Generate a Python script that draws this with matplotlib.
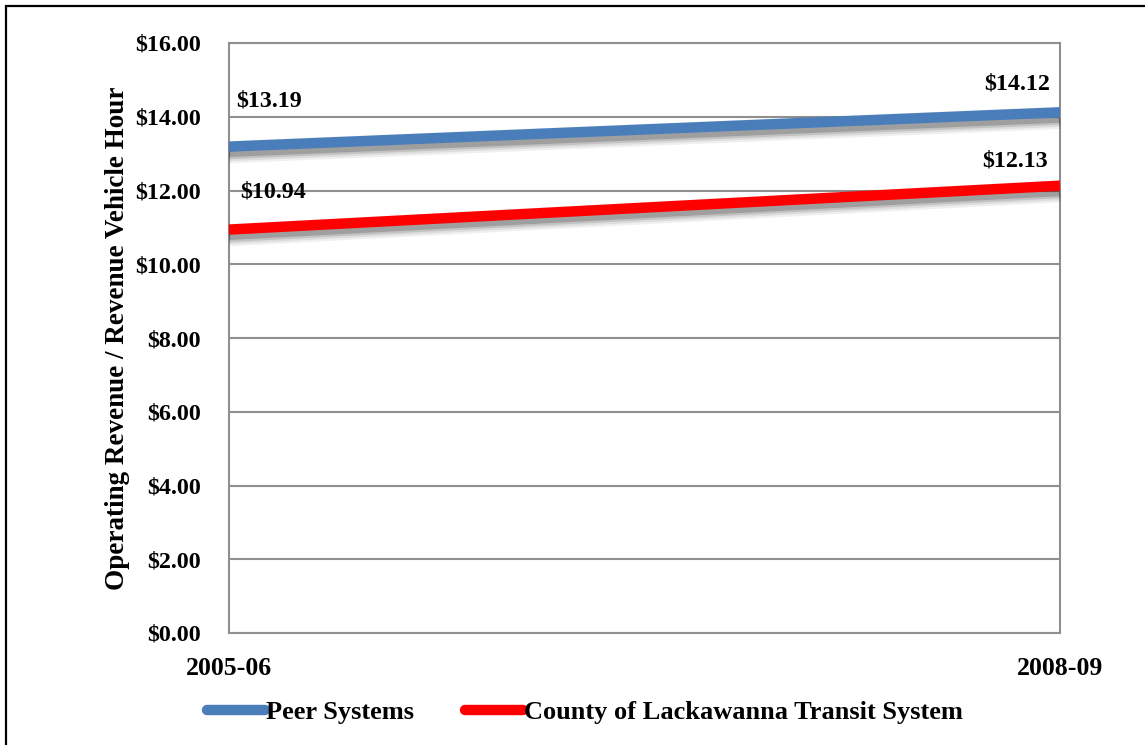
import matplotlib
matplotlib.use("Agg")
import matplotlib.pyplot as plt
import matplotlib.patheffects as pe
from matplotlib.patches import Rectangle

# Data
periods = ["2005-06", "2008-09"]
peer_systems = [13.19, 14.12]
colts = [10.94, 12.13]
series_names = ["Peer Systems", "County of Lackawanna Transit System"]
y_ticks = [0, 2, 4, 6, 8, 10, 12, 14, 16]

plt.rcParams["font.family"] = ["Liberation Serif", "DejaVu Serif"]
plt.rcParams["font.weight"] = "bold"

fig = plt.figure(figsize=(11.45, 7.45), dpi=100)
ax = fig.add_axes([229 / 1145, 1 - 633 / 745, (1060 - 229) / 1145, (633 - 43) / 745])

grid_color = "#8f8f8f"
x = list(range(len(periods)))

# soft blurred drop shadow beneath each line
shadow = [
    pe.SimpleLineShadow(offset=(0, -4), shadow_color="#000000", alpha=0.06, linewidth=16),
    pe.SimpleLineShadow(offset=(0, -4), shadow_color="#000000", alpha=0.08, linewidth=13),
    pe.SimpleLineShadow(offset=(0, -4), shadow_color="#000000", alpha=0.12, linewidth=10),
    pe.SimpleLineShadow(offset=(0, -4), shadow_color="#000000", alpha=0.18, linewidth=7),
    pe.Normal(),
]

ax.plot(x, peer_systems, color="#4a7ebb", lw=7.5, solid_capstyle="butt",
        label=series_names[0], path_effects=shadow, zorder=4, clip_on=False)
ax.plot(x, colts, color="#ff0000", lw=7.5, solid_capstyle="butt",
        label=series_names[1], path_effects=shadow, zorder=4, clip_on=False)

# value labels
fs = 17.3
lbl_kw = dict(fontsize=fs, fontweight="bold", color="black", zorder=6)
ax.annotate(f"${peer_systems[0]:.2f}", (x[0], peer_systems[0]), xytext=(7, 46),
            textcoords="offset pixels", ha="left", va="center", **lbl_kw)
ax.annotate(f"${peer_systems[1]:.2f}", (x[1], peer_systems[1]), xytext=(-10, 28),
            textcoords="offset pixels", ha="right", va="center", **lbl_kw)
ax.annotate(f"${colts[0]:.2f}", (x[0], colts[0]), xytext=(11, 38),
            textcoords="offset pixels", ha="left", va="center", **lbl_kw)
ax.annotate(f"${colts[1]:.2f}", (x[1], colts[1]), xytext=(-12, 25),
            textcoords="offset pixels", ha="right", va="center", **lbl_kw)

ax.set_xlim(0, 1)
ax.set_ylim(0, 16)
ax.set_xticks(x)
ax.set_xticklabels(periods, fontsize=18.5, fontweight="bold")
ax.set_yticks(y_ticks)
ax.set_yticklabels([f"${v:.2f}" for v in y_ticks], fontsize=fs, fontweight="bold")
ax.tick_params(axis="both", length=0)
ax.tick_params(axis="y", pad=20)
ax.tick_params(axis="x", pad=17)

ax.yaxis.grid(True, color=grid_color, lw=1.5)
ax.set_axisbelow(True)
for s in ax.spines.values():
    s.set_color(grid_color)
    s.set_linewidth(1.5)

ax.set_ylabel("Operating Revenue / Revenue Vehicle Hour", fontsize=19.5,
              fontweight="bold")
ax.yaxis.set_label_coords((130 - 229) / (1060 - 229), (633 - 338) / (633 - 43))

leg = fig.legend(loc="center", bbox_to_anchor=(585 / 1145, 1 - 712 / 745), ncol=2,
                 frameon=False, handlelength=2.2, handletextpad=0.05,
                 columnspacing=1.9, prop={"weight": "bold", "size": 19})
for h in leg.get_lines():
    h.set_linewidth(7.5)
    h.set_solid_capstyle("round")
    h.set_path_effects([])

# outer frame
fig.patches.append(Rectangle((6 / 1145, -0.05), 1.1, 1 - 6 / 745 + 0.05,
                             transform=fig.transFigure, fill=False,
                             edgecolor="black", lw=1.6, zorder=10))

fig.savefig("out.png", dpi=100)
